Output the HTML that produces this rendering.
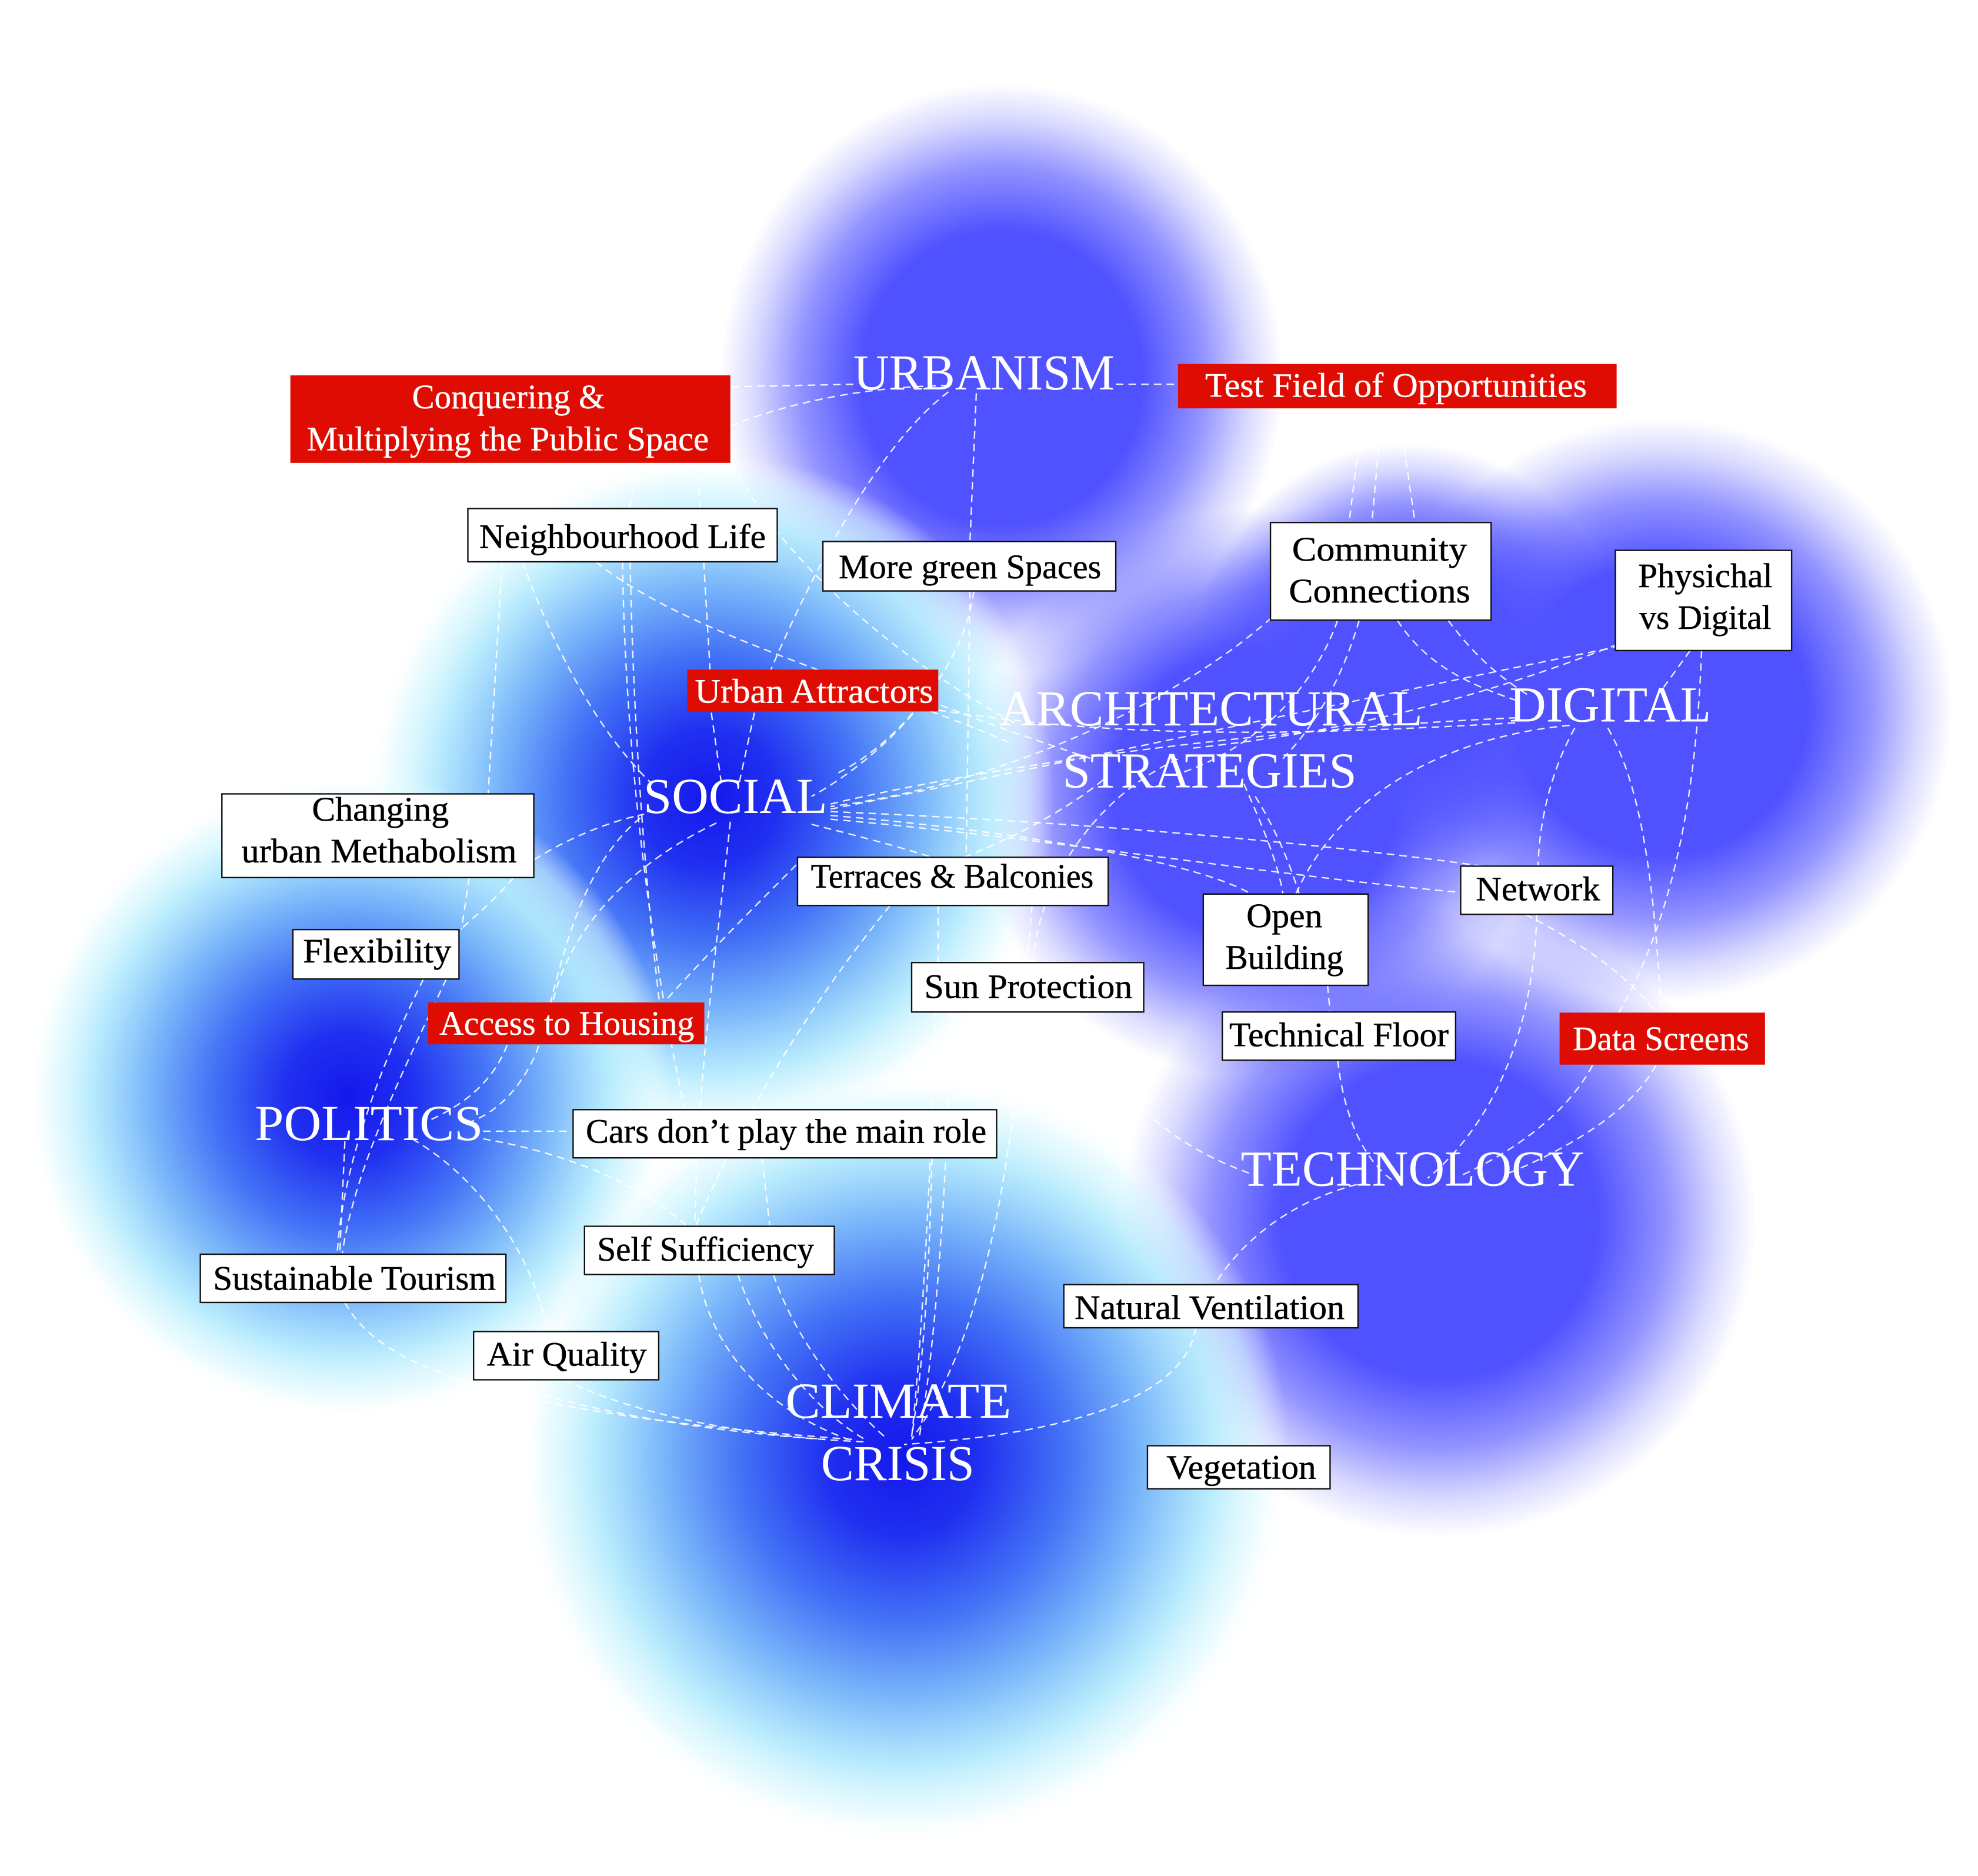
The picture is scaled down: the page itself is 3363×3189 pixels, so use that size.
<!DOCTYPE html>
<html>
<head>
<meta charset="utf-8">
<style>
html,body{margin:0;padding:0;background:#fff;overflow:hidden;}
svg{display:block;}
.bx{fill:#fff;stroke:#111;stroke-width:1.1;}
.rd{fill:#de0c02;}
.bt{font-family:"Liberation Serif",serif;font-size:27px;fill:#000;stroke:#000;stroke-width:0.25;}
.rt{font-family:"Liberation Serif",serif;font-size:27px;fill:#fff;stroke:#fff;stroke-width:0.2;}
.ct{font-family:"Liberation Serif",serif;font-size:40px;fill:#fff;}
.ln path{fill:none;stroke:#fff;stroke-width:1.1;stroke-dasharray:6 4;opacity:0.9;}
</style>
</head>
<body>
<svg width="3363" height="3189" viewBox="0 0 1560 1479.3" preserveAspectRatio="none" xmlns="http://www.w3.org/2000/svg">
<defs>
<radialGradient id="gv">
<stop offset="0" stop-color="#5052ff" stop-opacity="1"/>
<stop offset="0.5" stop-color="#5052ff" stop-opacity="1"/>
<stop offset="0.72" stop-color="#5052ff" stop-opacity="0.62"/>
<stop offset="0.88" stop-color="#5052ff" stop-opacity="0.22"/>
<stop offset="1" stop-color="#5052ff" stop-opacity="0"/>
</radialGradient>
<radialGradient id="gb">
<stop offset="0" stop-color="#1418ec" stop-opacity="1"/>
<stop offset="0.2" stop-color="#2030f0" stop-opacity="1"/>
<stop offset="0.42" stop-color="#4372f6" stop-opacity="1"/>
<stop offset="0.62" stop-color="#7ab6fa" stop-opacity="1"/>
<stop offset="0.8" stop-color="#b2eafd" stop-opacity="0.9"/>
<stop offset="0.92" stop-color="#d8f8ff" stop-opacity="0.55"/>
<stop offset="1" stop-color="#ffffff" stop-opacity="0"/>
</radialGradient>
</defs>

<rect x="0" y="0" width="1560" height="1479.3" fill="#fff"/>

<!-- violet blobs -->
<ellipse cx="790" cy="298" rx="222" ry="232" fill="url(#gv)"/>
<circle cx="990" cy="625" r="225" fill="url(#gv)"/>
<circle cx="1110" cy="520" r="170" fill="url(#gv)"/>
<circle cx="1310" cy="560" r="230" fill="url(#gv)"/>
<circle cx="1135" cy="962" r="250" fill="url(#gv)"/>

<!-- blue blobs -->
<circle cx="560" cy="630" r="272" fill="url(#gb)"/>
<circle cx="275" cy="865" r="255" fill="url(#gb)"/>
<circle cx="712" cy="1150" r="305" fill="url(#gb)"/>

<!-- connectors -->
<g class="ln">
<path d="M577,305 L673,303"/>
<path d="M576,336 C625,316 690,304 752,304"/>
<path d="M880,303 L929,303"/>
<path d="M770,310 L765,427"/>
<path d="M748,309 C700,345 650,430 608,528"/>
<path d="M578,366 C610,430 690,510 800,570"/>
<path d="M550,365 L552,401"/>
<path d="M505,365 L496,401"/>
<path d="M396,443 L385,626"/>
<path d="M412,443 C440,520 475,580 513,617"/>
<path d="M491,443 C493,600 515,760 540,875"/>
<path d="M497,443 C500,600 512,720 520,790"/>
<path d="M555,443 L560,528"/>
<path d="M561,562 L569,618"/>
<path d="M470,443 C540,500 690,540 795,585"/>
<path d="M765,466 L762,676"/>
<path d="M768,466 C760,530 700,595 640,628"/>
<path d="M1075,323 L1064,412"/>
<path d="M1090,323 L1082,412"/>
<path d="M1103,323 L1116,412"/>
<path d="M1003,487 C920,560 780,620 655,636"/>
<path d="M1055,489 C1035,545 990,590 930,610"/>
<path d="M1072,489 C1060,530 1040,570 1010,600"/>
<path d="M1102,489 C1125,525 1160,540 1195,552"/>
<path d="M1142,489 C1165,520 1185,535 1205,548"/>
<path d="M1276,508 C1180,545 1080,575 940,590"/>
<path d="M1333,513 L1312,542"/>
<path d="M1342,513 C1338,620 1322,720 1276,800"/>
<path d="M1242,574 C1222,610 1214,650 1213,683"/>
<path d="M1268,574 C1295,620 1305,700 1310,798"/>
<path d="M1238,572 C1150,580 1060,620 1022,705"/>
<path d="M655,634 C800,600 1000,575 1195,566"/>
<path d="M740,560 C900,585 1050,578 1195,570"/>
<path d="M1203,721 C1240,740 1280,765 1306,798"/>
<path d="M1212,721 C1210,800 1185,880 1126,929"/>
<path d="M1256,840 C1235,880 1190,910 1150,928"/>
<path d="M1306,840 C1290,870 1250,900 1190,925"/>
<path d="M655,640 C850,648 1050,665 1190,686"/>
<path d="M655,646 C820,660 1000,690 1155,704"/>
<path d="M655,643 C800,655 950,680 990,707"/>
<path d="M655,638 C850,600 1100,545 1276,510"/>
<path d="M640,650 C680,660 710,668 735,676"/>
<path d="M981,618 C995,650 1008,680 1012,706"/>
<path d="M990,628 C1010,660 1020,690 1025,706"/>
<path d="M815,759 C818,700 860,630 930,598"/>
<path d="M742,556 C790,575 830,588 860,598"/>
<path d="M870,615 C840,640 790,665 760,676"/>
<path d="M1047,777 L1049,798"/>
<path d="M1055,836 C1060,880 1075,915 1100,932"/>
<path d="M985,925 C930,905 880,870 850,798"/>
<path d="M1070,934 C1010,950 975,985 958,1013"/>
<path d="M943,1047 C935,1100 850,1130 713,1139"/>
<path d="M738,797 C735,900 728,1050 719,1133"/>
<path d="M750,797 C748,900 740,1050 725,1133"/>
<path d="M806,797 C800,900 780,1050 719,1135"/>
<path d="M702,714 C640,790 585,880 549,966"/>
<path d="M740,714 L740,759"/>
<path d="M814,714 L810,759"/>
<path d="M628,682 C595,715 560,750 524,790"/>
<path d="M735,913 C733,1000 729,1070 719,1133"/>
<path d="M601,913 L607,966"/>
<path d="M576,648 C565,750 550,850 548,966"/>
<path d="M551,1005 C560,1060 600,1110 669,1135"/>
<path d="M582,1005 C600,1060 640,1110 682,1135"/>
<path d="M610,1005 C625,1050 660,1100 700,1135"/>
<path d="M445,1088 C500,1115 580,1130 651,1135"/>
<path d="M390,1088 C480,1120 600,1133 682,1137"/>
<path d="M272,1027 C300,1080 400,1115 672,1135"/>
<path d="M381,892 L452,892"/>
<path d="M381,898 C440,908 500,930 541,966"/>
<path d="M325,898 C380,930 420,990 432,1050"/>
<path d="M272,900 L268,988"/>
<path d="M334,772 C300,840 270,920 266,988"/>
<path d="M352,772 C320,840 280,920 270,988"/>
<path d="M505,645 C450,690 440,780 423,830 C410,860 390,878 370,885"/>
<path d="M565,649 C500,680 450,730 436,790"/>
<path d="M421,678 C450,660 480,648 508,642"/>
<path d="M370,692 L364,733"/>
<path d="M405,692 C390,710 375,722 363,733"/>
<path d="M400,824 C390,850 370,870 335,885"/>
<path d="M595,562 L582,622"/>
<path d="M720,562 C700,585 680,600 660,610"/>
</g>

<!-- category labels -->
<text class="ct" x="776" y="307" text-anchor="middle" textLength="206" lengthAdjust="spacingAndGlyphs">URBANISM</text>
<text class="ct" x="955" y="572" text-anchor="middle" textLength="334" lengthAdjust="spacingAndGlyphs">ARCHITECTURAL</text>
<text class="ct" x="954" y="621" text-anchor="middle" textLength="232" lengthAdjust="spacingAndGlyphs">STRATEGIES</text>
<text class="ct" x="1270" y="569" text-anchor="middle" textLength="159" lengthAdjust="spacingAndGlyphs">DIGITAL</text>
<text class="ct" x="580" y="641" text-anchor="middle" textLength="145" lengthAdjust="spacingAndGlyphs">SOCIAL</text>
<text class="ct" x="291" y="899" text-anchor="middle" textLength="180" lengthAdjust="spacingAndGlyphs">POLITICS</text>
<text class="ct" x="1114" y="935" text-anchor="middle" textLength="271" lengthAdjust="spacingAndGlyphs">TECHNOLOGY</text>
<text class="ct" x="708.5" y="1118" text-anchor="middle" textLength="178" lengthAdjust="spacingAndGlyphs">CLIMATE</text>
<text class="ct" x="708" y="1167" text-anchor="middle" textLength="121" lengthAdjust="spacingAndGlyphs">CRISIS</text>

<!-- red boxes -->
<rect class="rd" x="229" y="296" width="347" height="69"/>
<text class="rt" x="401" y="322" text-anchor="middle" textLength="152" lengthAdjust="spacingAndGlyphs">Conquering &amp;</text>
<text class="rt" x="400.5" y="355" text-anchor="middle" textLength="317" lengthAdjust="spacingAndGlyphs">Multiplying the Public Space</text>

<rect class="rd" x="929" y="287" width="346" height="35"/>
<text class="rt" x="1101" y="313" text-anchor="middle" textLength="301" lengthAdjust="spacingAndGlyphs">Test Field of Opportunities</text>

<rect class="rd" x="542" y="528" width="198" height="33"/>
<text class="rt" x="642" y="554" text-anchor="middle" textLength="188" lengthAdjust="spacingAndGlyphs">Urban Attractors</text>

<rect class="rd" x="337.5" y="790.5" width="218" height="33"/>
<text class="rt" x="447" y="816" text-anchor="middle" textLength="201" lengthAdjust="spacingAndGlyphs">Access to Housing</text>

<rect class="rd" x="1230" y="798.5" width="162" height="41"/>
<text class="rt" x="1310" y="828" text-anchor="middle" textLength="139" lengthAdjust="spacingAndGlyphs">Data Screens</text>

<!-- white boxes -->
<rect class="bx" x="369" y="401" width="244" height="42"/>
<text class="bt" x="491" y="432" text-anchor="middle" textLength="226" lengthAdjust="spacingAndGlyphs">Neighbourhood Life</text>

<rect class="bx" x="649" y="427" width="231" height="39"/>
<text class="bt" x="765" y="456" text-anchor="middle" textLength="207" lengthAdjust="spacingAndGlyphs">More green Spaces</text>

<rect class="bx" x="1002" y="412" width="174" height="77"/>
<text class="bt" x="1088" y="442" text-anchor="middle" textLength="138" lengthAdjust="spacingAndGlyphs">Community</text>
<text class="bt" x="1088" y="475" text-anchor="middle" textLength="143" lengthAdjust="spacingAndGlyphs">Connections</text>

<rect class="bx" x="1274" y="434" width="139" height="79"/>
<text class="bt" x="1345" y="463" text-anchor="middle" textLength="106" lengthAdjust="spacingAndGlyphs">Physichal</text>
<text class="bt" x="1345" y="496" text-anchor="middle" textLength="104" lengthAdjust="spacingAndGlyphs">vs Digital</text>

<rect class="bx" x="175" y="626" width="246" height="66"/>
<text class="bt" x="300" y="647" text-anchor="middle" textLength="108" lengthAdjust="spacingAndGlyphs">Changing</text>
<text class="bt" x="299" y="680" text-anchor="middle" textLength="217" lengthAdjust="spacingAndGlyphs">urban Methabolism</text>

<rect class="bx" x="629" y="676" width="245" height="38"/>
<text class="bt" x="751" y="700" text-anchor="middle" textLength="223" lengthAdjust="spacingAndGlyphs">Terraces &amp; Balconies</text>

<rect class="bx" x="1152" y="683" width="120" height="38"/>
<text class="bt" x="1213" y="710" text-anchor="middle" textLength="98" lengthAdjust="spacingAndGlyphs">Network</text>

<rect class="bx" x="949" y="705" width="130" height="72"/>
<text class="bt" x="1013" y="731" text-anchor="middle" textLength="60" lengthAdjust="spacingAndGlyphs">Open</text>
<text class="bt" x="1013" y="764" text-anchor="middle" textLength="93" lengthAdjust="spacingAndGlyphs">Building</text>

<rect class="bx" x="231" y="733" width="131" height="39"/>
<text class="bt" x="297.5" y="759" text-anchor="middle" textLength="117" lengthAdjust="spacingAndGlyphs">Flexibility</text>

<rect class="bx" x="719" y="759" width="183" height="39"/>
<text class="bt" x="811" y="787" text-anchor="middle" textLength="164" lengthAdjust="spacingAndGlyphs">Sun Protection</text>

<rect class="bx" x="964" y="798" width="184" height="38"/>
<text class="bt" x="1056" y="825" text-anchor="middle" textLength="173" lengthAdjust="spacingAndGlyphs">Technical Floor</text>

<rect class="bx" x="452" y="875" width="334" height="38"/>
<text class="bt" x="620" y="901" text-anchor="middle" textLength="316" lengthAdjust="spacingAndGlyphs">Cars don’t play the main role</text>

<rect class="bx" x="461" y="967" width="197" height="38"/>
<text class="bt" x="556.5" y="994" text-anchor="middle" textLength="171" lengthAdjust="spacingAndGlyphs">Self Sufficiency</text>

<rect class="bx" x="158" y="989" width="241" height="38"/>
<text class="bt" x="279.6" y="1017" text-anchor="middle" textLength="223" lengthAdjust="spacingAndGlyphs">Sustainable Tourism</text>

<rect class="bx" x="839" y="1013" width="232" height="34"/>
<text class="bt" x="954" y="1040" text-anchor="middle" textLength="213" lengthAdjust="spacingAndGlyphs">Natural Ventilation</text>

<rect class="bx" x="373.5" y="1050" width="146" height="38"/>
<text class="bt" x="447" y="1077" text-anchor="middle" textLength="126" lengthAdjust="spacingAndGlyphs">Air Quality</text>

<rect class="bx" x="905" y="1140" width="144" height="34"/>
<text class="bt" x="979" y="1166" text-anchor="middle" textLength="118" lengthAdjust="spacingAndGlyphs">Vegetation</text>
</svg>
</body>
</html>
